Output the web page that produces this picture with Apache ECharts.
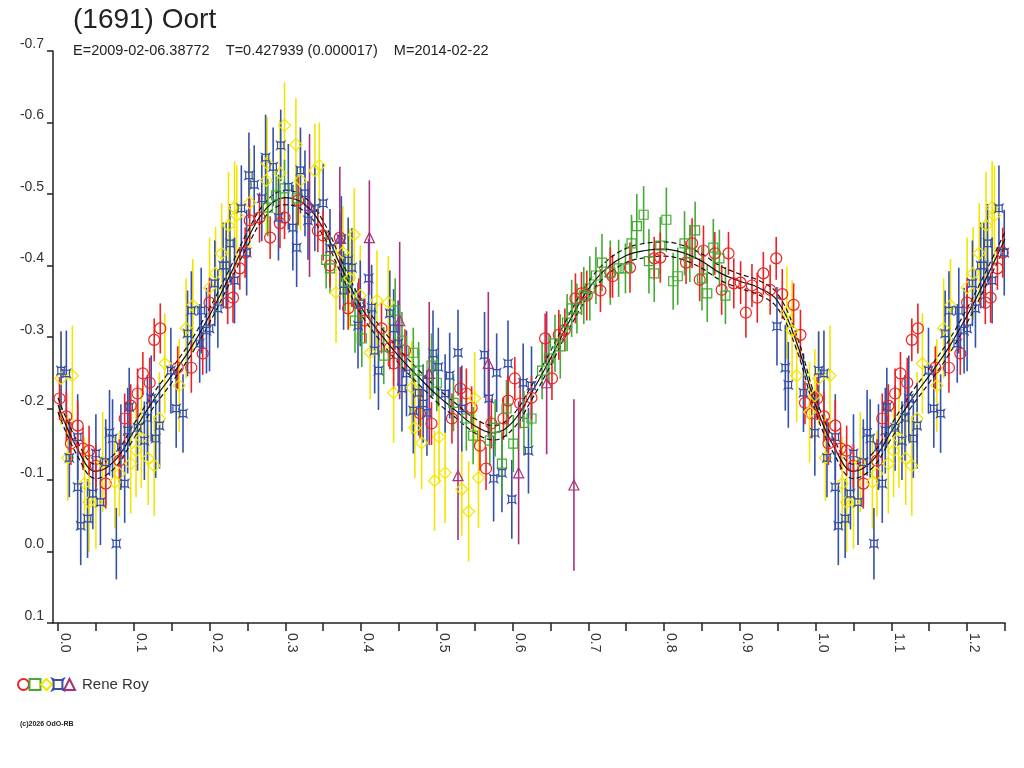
<!DOCTYPE html>
<html>
<head>
<meta charset="utf-8">
<script src="https://cdn.jsdelivr.net/npm/echarts@6/dist/echarts.min.js"></script>
<style>
  html, body { margin: 0; padding: 0; background: #fff; }
  #main { width: 1024px; height: 768px; }
</style>
</head>
<body>
<div id="main"></div>
<script>
// phase, magnitude, error  (phase 0..1, wrapped to 1.25 below)
const redCircles = [
  [0.002,-0.214,0.030],[0.011,-0.189,0.035],[0.017,-0.151,0.030],[0.026,-0.176,0.035],[0.033,-0.144,0.030],
  [0.041,-0.141,0.035],[0.050,-0.120,0.030],[0.063,-0.095,0.035],[0.081,-0.127,0.030],[0.088,-0.186,0.035],
  [0.096,-0.204,0.030],[0.105,-0.221,0.035],[0.112,-0.249,0.030],[0.121,-0.236,0.035],[0.127,-0.296,0.030],
  [0.135,-0.312,0.035],[0.158,-0.257,0.030],[0.176,-0.257,0.035],[0.191,-0.277,0.030],[0.200,-0.348,0.035],
  [0.224,-0.348,0.030],[0.231,-0.355,0.035],[0.240,-0.396,0.030],[0.247,-0.418,0.035],[0.253,-0.463,0.030],
  [0.266,-0.467,0.035],[0.280,-0.439,0.030],[0.293,-0.459,0.035],[0.299,-0.467,0.030],[0.317,-0.491,0.035],
  [0.343,-0.449,0.030],[0.350,-0.442,0.035],[0.359,-0.400,0.030],[0.372,-0.439,0.035],[0.383,-0.340,0.030],
  [0.397,-0.347,0.035],[0.405,-0.323,0.030],[0.427,-0.312,0.035],[0.438,-0.285,0.030],[0.443,-0.263,0.035],
  [0.458,-0.281,0.030],[0.478,-0.193,0.035],[0.493,-0.179,0.030],[0.520,-0.186,0.035],[0.531,-0.228,0.030],
  [0.539,-0.221,0.035],[0.546,-0.201,0.030],[0.557,-0.148,0.035],[0.565,-0.116,0.030],[0.572,-0.179,0.035],
  [0.588,-0.186,0.030],[0.594,-0.211,0.035],[0.603,-0.242,0.030],[0.610,-0.207,0.035],[0.625,-0.215,0.030],
  [0.643,-0.298,0.035],[0.652,-0.242,0.030],[0.661,-0.303,0.035],[0.669,-0.310,0.030],[0.683,-0.354,0.035],
  [0.691,-0.361,0.030],[0.698,-0.358,0.035],[0.716,-0.365,0.030],[0.729,-0.390,0.035],[0.732,-0.385,0.030],
  [0.755,-0.397,0.035],[0.787,-0.410,0.030],[0.795,-0.411,0.035],[0.829,-0.404,0.030],[0.837,-0.431,0.035],
  [0.847,-0.380,0.030],[0.852,-0.421,0.035],[0.867,-0.417,0.030],[0.876,-0.366,0.035],[0.885,-0.417,0.030],
  [0.892,-0.375,0.035],[0.901,-0.376,0.030],[0.908,-0.334,0.035],[0.916,-0.372,0.030],[0.923,-0.355,0.035],
  [0.931,-0.389,0.030],[0.940,-0.366,0.035],[0.948,-0.410,0.030],[0.956,-0.360,0.035],[0.971,-0.345,0.030],
  [0.980,-0.303,0.035],[0.986,-0.208,0.030],[0.995,-0.193,0.035]
];
const greenSquares = [
  [0.277,-0.481,0.040],[0.288,-0.498,0.035],[0.299,-0.508,0.040],[0.315,-0.494,0.045],[0.354,-0.408,0.040],
  [0.359,-0.396,0.035],[0.379,-0.376,0.040],[0.392,-0.323,0.045],[0.401,-0.298,0.040],[0.430,-0.274,0.040],
  [0.445,-0.337,0.045],[0.454,-0.295,0.040],[0.469,-0.278,0.035],[0.476,-0.253,0.040],[0.493,-0.260,0.045],
  [0.500,-0.236,0.040],[0.522,-0.208,0.040],[0.539,-0.186,0.045],[0.548,-0.162,0.040],[0.570,-0.155,0.035],
  [0.577,-0.173,0.040],[0.586,-0.123,0.045],[0.592,-0.200,0.040],[0.601,-0.151,0.040],[0.615,-0.180,0.045],
  [0.625,-0.186,0.040],[0.639,-0.253,0.040],[0.648,-0.270,0.035],[0.656,-0.291,0.040],[0.663,-0.287,0.045],
  [0.672,-0.320,0.040],[0.678,-0.340,0.040],[0.685,-0.340,0.035],[0.694,-0.358,0.040],[0.702,-0.368,0.045],
  [0.710,-0.386,0.040],[0.718,-0.404,0.040],[0.729,-0.390,0.045],[0.740,-0.396,0.040],[0.749,-0.396,0.035],
  [0.757,-0.431,0.040],[0.764,-0.455,0.045],[0.773,-0.471,0.040],[0.780,-0.406,0.045],[0.787,-0.389,0.040],
  [0.795,-0.428,0.040],[0.803,-0.464,0.045],[0.812,-0.378,0.040],[0.818,-0.385,0.040],[0.827,-0.431,0.045],
  [0.834,-0.417,0.040],[0.841,-0.449,0.040],[0.850,-0.382,0.045],[0.857,-0.361,0.040],[0.865,-0.425,0.040],
  [0.873,-0.410,0.040],[0.881,-0.358,0.040]
];
const yellowDiamonds = [
  [0.004,-0.242,0.065],[0.013,-0.131,0.060],[0.019,-0.246,0.070],[0.035,-0.095,0.065],[0.041,-0.069,0.070],
  [0.050,-0.069,0.065],[0.059,-0.125,0.070],[0.075,-0.097,0.065],[0.081,-0.109,0.060],[0.096,-0.123,0.070],
  [0.103,-0.141,0.065],[0.110,-0.159,0.070],[0.119,-0.130,0.065],[0.127,-0.120,0.070],[0.134,-0.186,0.065],
  [0.141,-0.263,0.070],[0.160,-0.232,0.065],[0.169,-0.312,0.070],[0.178,-0.344,0.065],[0.200,-0.369,0.070],
  [0.208,-0.389,0.065],[0.216,-0.417,0.070],[0.225,-0.456,0.075],[0.233,-0.481,0.065],[0.236,-0.470,0.070],
  [0.253,-0.488,0.075],[0.275,-0.519,0.075],[0.276,-0.543,0.065],[0.293,-0.529,0.075],[0.299,-0.596,0.060],
  [0.314,-0.569,0.065],[0.320,-0.519,0.070],[0.339,-0.533,0.065],[0.345,-0.540,0.060],[0.367,-0.362,0.070],
  [0.376,-0.418,0.065],[0.385,-0.382,0.070],[0.391,-0.443,0.065],[0.399,-0.358,0.070],[0.412,-0.278,0.065],
  [0.421,-0.351,0.070],[0.436,-0.348,0.065],[0.443,-0.222,0.070],[0.467,-0.229,0.065],[0.471,-0.173,0.070],
  [0.480,-0.152,0.065],[0.497,-0.099,0.070],[0.503,-0.160,0.065],[0.511,-0.110,0.070],[0.533,-0.087,0.065],
  [0.542,-0.056,0.070],[0.550,-0.214,0.065],[0.555,-0.103,0.070],[0.962,-0.334,0.065],[0.969,-0.309,0.070],
  [0.975,-0.246,0.065],[0.992,-0.195,0.070],[0.999,-0.218,0.065]
];
const blueStars = [
  [0.004,-0.253,0.055],[0.011,-0.249,0.060],[0.015,-0.131,0.055],[0.026,-0.160,0.060],[0.026,-0.090,0.060],
  [0.030,-0.036,0.055],[0.039,-0.046,0.055],[0.046,-0.081,0.050],[0.050,-0.137,0.055],[0.056,-0.069,0.060],
  [0.063,-0.125,0.060],[0.068,-0.166,0.060],[0.072,-0.158,0.055],[0.077,-0.011,0.050],[0.083,-0.146,0.060],
  [0.088,-0.095,0.055],[0.092,-0.169,0.060],[0.094,-0.202,0.055],[0.105,-0.173,0.060],[0.114,-0.155,0.055],
  [0.118,-0.187,0.060],[0.123,-0.214,0.060],[0.129,-0.158,0.055],[0.134,-0.176,0.060],[0.149,-0.253,0.060],
  [0.156,-0.200,0.055],[0.165,-0.193,0.055],[0.171,-0.305,0.060],[0.176,-0.337,0.055],[0.187,-0.291,0.055],
  [0.189,-0.337,0.060],[0.196,-0.309,0.060],[0.200,-0.312,0.060],[0.207,-0.375,0.060],[0.211,-0.340,0.055],
  [0.218,-0.400,0.060],[0.222,-0.400,0.060],[0.227,-0.431,0.055],[0.233,-0.379,0.060],[0.242,-0.480,0.060],
  [0.249,-0.418,0.060],[0.252,-0.526,0.060],[0.259,-0.513,0.055],[0.269,-0.494,0.060],[0.274,-0.551,0.060],
  [0.284,-0.538,0.055],[0.291,-0.467,0.060],[0.294,-0.568,0.050],[0.304,-0.510,0.060],[0.310,-0.453,0.060],
  [0.315,-0.425,0.055],[0.320,-0.533,0.060],[0.326,-0.501,0.060],[0.330,-0.463,0.055],[0.339,-0.480,0.060],
  [0.350,-0.487,0.055],[0.359,-0.424,0.055],[0.374,-0.437,0.060],[0.377,-0.365,0.055],[0.383,-0.407,0.060],
  [0.388,-0.397,0.055],[0.396,-0.316,0.060],[0.399,-0.347,0.060],[0.410,-0.382,0.055],[0.414,-0.341,0.060],
  [0.418,-0.281,0.060],[0.423,-0.253,0.055],[0.438,-0.333,0.060],[0.443,-0.312,0.055],[0.449,-0.291,0.060],
  [0.454,-0.228,0.060],[0.460,-0.249,0.060],[0.469,-0.197,0.060],[0.476,-0.222,0.060],[0.482,-0.207,0.055],
  [0.487,-0.194,0.060],[0.495,-0.277,0.060],[0.502,-0.258,0.055],[0.511,-0.221,0.055],[0.517,-0.246,0.060],
  [0.528,-0.278,0.060],[0.533,-0.200,0.060],[0.563,-0.275,0.060],[0.569,-0.214,0.055],[0.575,-0.102,0.060],
  [0.579,-0.250,0.055],[0.586,-0.110,0.055],[0.594,-0.263,0.060],[0.599,-0.073,0.055],[0.614,-0.236,0.055],
  [0.621,-0.141,0.060],[0.625,-0.232,0.055],[0.949,-0.315,0.055],[0.960,-0.257,0.060],[0.964,-0.233,0.060],
  [0.984,-0.222,0.055],[0.999,-0.166,0.060]
];
const magentaTriangles = [
  [0.332,-0.484,0.10],[0.372,-0.438,0.10],[0.411,-0.439,0.08],[0.451,-0.323,0.11],[0.490,-0.249,0.10],
  [0.528,-0.106,0.09],[0.568,-0.263,0.10],[0.608,-0.110,0.10],[0.645,-0.236,0.10],[0.681,-0.093,0.12]
];

// fitted light curve (phase step 0.025)
const fitPhase = [0,0.025,0.05,0.075,0.1,0.125,0.15,0.175,0.2,0.225,0.25,0.275,0.3,0.325,0.35,0.375,0.4,
  0.425,0.45,0.475,0.5,0.525,0.55,0.575,0.6,0.625,0.65,0.675,0.7,0.725,0.75,0.775,0.8,0.825,0.85,0.875,
  0.9,0.925,0.95,0.975];
const fitMag = [-0.205,-0.145,-0.112,-0.127,-0.168,-0.210,-0.246,-0.284,-0.330,-0.382,-0.437,-0.480,-0.495,
  -0.486,-0.452,-0.395,-0.342,-0.305,-0.273,-0.245,-0.219,-0.197,-0.176,-0.166,-0.181,-0.222,-0.270,-0.322,
  -0.367,-0.397,-0.414,-0.421,-0.423,-0.418,-0.406,-0.389,-0.378,-0.369,-0.350,-0.292];
const fitBand = 0.01;

const xTicks = [0,0.05,0.1,0.15,0.2,0.25,0.3,0.35,0.4,0.45,0.5,0.55,0.6,0.65,0.7,0.75,0.8,0.85,0.9,0.95,
  1.0,1.05,1.1,1.15,1.2,1.25];
const xLabels = [0,0.1,0.2,0.3,0.4,0.5,0.6,0.7,0.8,0.9,1.0,1.1,1.2];

const WRAP = 0.25;
function wrap(pts) {
  return pts.concat(pts.filter(p => p[0] < WRAP).map(p => [p[0] + 1].concat(p.slice(1))));
}
function fitLine(off) {
  const pts = fitPhase.map((p, i) => [p, fitMag[i] + off]);
  const ext = pts.concat([[1, fitMag[0] + off]]);
  return ext.concat(pts.filter(p => p[0] > 0 && p[0] <= WRAP).map(p => [p[0] + 1, p[1]]));
}

const sets = [
  { name: 'r1', data: redCircles, color: '#ee2222', symbol: 'circle', size: 11 },
  { name: 'r2', data: greenSquares, color: '#44aa33', symbol: 'rect', size: 9 },
  { name: 'r3', data: yellowDiamonds, color: '#f2e600', symbol: 'diamond', size: 12 },
  { name: 'r4', data: blueStars, color: '#3550a8', symbol: 'path://M0,0 L2,1 L8,1 L10,0 L9,2 L9,8 L10,10 L8,9 L2,9 L0,10 L1,8 L1,2 Z', size: 8 },
  { name: 'r5', data: magentaTriangles, color: '#a8307a', symbol: 'triangle', size: 10 }
];
const barOrder = ['r3', 'r4', 'r2', 'r1', 'r5'];

const series = [];
barOrder.forEach(n => {
  const s = sets.find(t => t.name === n);
  series.push({
    type: 'custom',
    name: n + 'err',
    data: wrap(s.data),
    encode: { x: 0, y: 1 },
    z: 2,
    silent: true,
    renderItem: function (params, api) {
      const x = api.value(0), y = api.value(1), e = api.value(2);
      const a = api.coord([x, y - e]);
      const b = api.coord([x, y + e]);
      return { type: 'line', shape: { x1: a[0], y1: a[1], x2: b[0], y2: b[1] },
        style: { stroke: s.color, lineWidth: 1.6 } };
    }
  });
});
[[0, 'solid'], [fitBand, 'dashed'], [-fitBand, 'dashed']].forEach(f => {
  series.push({
    type: 'line', data: fitLine(f[0]), smooth: 0.4, symbol: 'none', z: 3, silent: true,
    lineStyle: { color: '#111', width: 1.2, type: f[1] === 'dashed' ? [5, 3] : 'solid' }
  });
});
sets.forEach(s => {
  series.push({
    type: 'scatter', name: s.name, data: wrap(s.data), symbol: s.symbol, symbolSize: s.size, z: 4,
    itemStyle: { color: 'rgba(0,0,0,0)', borderColor: s.color, borderWidth: 1.2, opacity: 1 }
  });
});

const chart = echarts.init(document.getElementById('main'));
chart.setOption({
  animation: false,
  backgroundColor: '#ffffff',
  textStyle: { fontFamily: 'Liberation Sans, Arial, sans-serif' },
  title: [
    { text: '(1691) Oort', left: 68, top: 1,
      textStyle: { fontSize: 28, fontWeight: 'normal', color: '#222', fontFamily: 'Liberation Sans' } },
    { text: 'E=2009-02-06.38772    T=0.427939 (0.000017)    M=2014-02-22', left: 68, top: 38,
      textStyle: { fontSize: 14.5, fontWeight: 'normal', color: '#222', fontFamily: 'Liberation Sans' } }
  ],
  legend: {
    data: sets.map(s => s.name),
    left: 12, top: 672, itemWidth: 11, itemHeight: 11, itemGap: -1.5,
    formatter: n => n === 'r5' ? 'Rene Roy' : '',
    textStyle: { fontSize: 15, color: '#333', fontFamily: 'Liberation Sans', padding: [0, 0, 0, 2] },
    selectedMode: false
  },
  grid: { left: 53, right: 19, top: 51, bottom: 145 },
  xAxis: {
    type: 'value', min: -0.0066, max: 1.25,
    splitLine: { show: false },
    axisLine: { onZero: false, lineStyle: { color: '#222', width: 1.5 } },
    axisTick: { customValues: xTicks, length: 8, lineStyle: { color: '#222', width: 1.5 } },
    axisLabel: { customValues: xLabels, rotate: -90, margin: 10, fontSize: 14, color: '#333',
      verticalAlign: 'bottom', formatter: v => v.toFixed(1) }
  },
  yAxis: {
    type: 'value', min: -0.7, max: 0.1, interval: 0.1, inverse: true,
    splitLine: { show: false },
    axisLine: { show: true, onZero: false, lineStyle: { color: '#222', width: 1.5 } },
    axisTick: { show: true, length: 6, lineStyle: { color: '#222', width: 1.5 } },
    axisLabel: { margin: 9, fontSize: 14, color: '#333', verticalAlign: 'bottom',
      formatter: v => v.toFixed(1) }
  },
  graphic: [
    { type: 'text', left: 20, top: 721,
      style: { text: '(c)2026 OdO-RB', fontSize: 7, fontWeight: 'bold', fill: '#222', fontFamily: 'Liberation Sans' } }
  ],
  series: series
});
</script>
</body>
</html>
